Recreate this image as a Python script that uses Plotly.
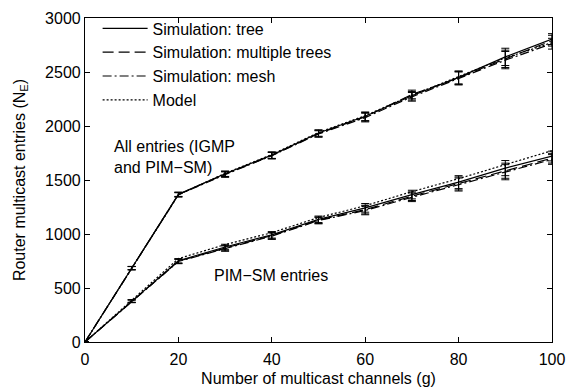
import plotly.graph_objects as go

g = [0, 10, 20, 30, 40, 50, 60, 70, 80, 90, 100]

all_tree = [0, 685, 1368, 1558, 1730, 1935, 2090, 2280, 2450, 2640, 2805]
all_multi = [0, 683, 1365, 1555, 1728, 1930, 2085, 2292, 2445, 2622, 2790]
all_mesh = [0, 684, 1362, 1550, 1725, 1926, 2078, 2270, 2440, 2610, 2762]
all_model = [0, 682, 1364, 1562, 1736, 1940, 2096, 2285, 2455, 2630, 2772]

pim_tree = [0, 380, 752, 880, 992, 1136, 1242, 1365, 1480, 1610, 1722]
pim_multi = [0, 378, 748, 870, 985, 1128, 1226, 1350, 1468, 1586, 1702]
pim_mesh = [0, 376, 745, 865, 980, 1124, 1218, 1340, 1458, 1572, 1690]
pim_model = [0, 386, 772, 902, 1012, 1152, 1262, 1392, 1512, 1642, 1772]

err_all = [0, 15, 20, 25, 30, 30, 40, 40, 60, 80, 50]
err_pim = [0, 12, 20, 25, 30, 30, 40, 40, 60, 70, 45]

names = ["Simulation: tree", "Simulation: multiple trees", "Simulation: mesh", "Model"]
dashes = ["solid", "11px,5px", "9px,3px,2px,3px", "2px,2px"]

fig = go.Figure()
upper = [all_tree, all_multi, all_mesh, all_model]
lower = [pim_tree, pim_multi, pim_mesh, pim_model]
for i in range(4):
    eb_a = dict(type="data", array=err_all, color="black", thickness=1, width=4, visible=(i < 3))
    eb_p = dict(type="data", array=err_pim, color="black", thickness=1, width=4, visible=(i < 3))
    fig.add_trace(go.Scatter(x=g, y=upper[i], mode="lines", name=names[i],
                             line=dict(color="black", width=1.2, dash=dashes[i]),
                             error_y=eb_a, legendgroup=names[i]))
    fig.add_trace(go.Scatter(x=g, y=lower[i], mode="lines", name=names[i],
                             line=dict(color="black", width=1.2, dash=dashes[i]),
                             error_y=eb_p, legendgroup=names[i], showlegend=False))

fig.add_annotation(x=5.8, y=1715, text="All entries (IGMP<br>and PIM−SM)", showarrow=False,
                   xanchor="left", yanchor="middle", align="left",
                   font=dict(size=16, color="black"))
fig.add_annotation(x=27.3, y=620, text="PIM−SM entries", showarrow=False,
                   xanchor="left", yanchor="middle", align="left",
                   font=dict(size=16, color="black"))

axis_common = dict(showline=True, linecolor="black", linewidth=1.2, mirror="ticks",
                   ticks="inside", ticklen=5, tickcolor="black", showgrid=False,
                   zeroline=False, tickfont=dict(size=16, color="black"), automargin=False)
fig.update_xaxes(range=[0, 100], tickvals=[0, 20, 40, 60, 80, 100], ticklabelstandoff=3,
                 title=dict(text="Number of multicast channels (g)", font=dict(size=16, color="black")),
                 **axis_common)
fig.update_yaxes(range=[0, 3000], tickvals=[0, 500, 1000, 1500, 2000, 2500, 3000],
                 title=dict(text="Router multicast entries (N<sub>E</sub>)", font=dict(size=16, color="black")),
                 **axis_common)

fig.update_layout(
    width=576, height=387,
    margin=dict(l=85, r=24, t=12, b=45),
    paper_bgcolor="white", plot_bgcolor="white",
    font=dict(family="Liberation Sans, Arial, sans-serif", size=16, color="black"),
    showlegend=True,
    legend=dict(x=0.027, y=1.02, xanchor="left", yanchor="top", bgcolor="rgba(0,0,0,0)",
                font=dict(size=16, color="black"), tracegroupgap=0, itemwidth=45),
)

fig.write_html("out.html")
